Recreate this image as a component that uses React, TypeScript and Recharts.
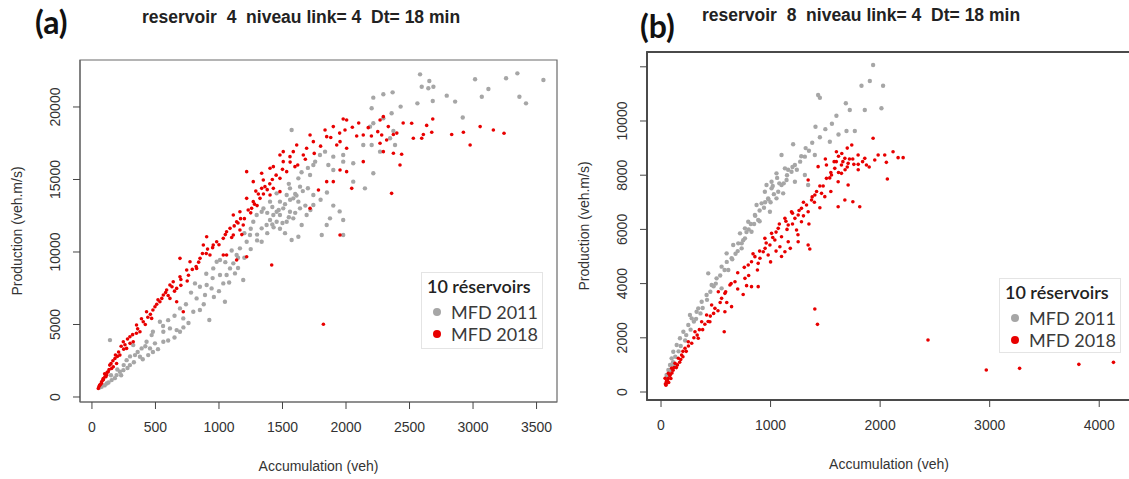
import React from 'react';
import { ScatterChart, Scatter, XAxis, YAxis, ReferenceArea, Legend, Label } from 'recharts';

type Pt = [number, number];

// ---------- Panel (a): reservoir 4 ----------
const mfd2011A: Pt[] = [
  [2583,22250],[2656,21790],[2596,21400],[2648,21290],[2688,21400],[3016,21910],[3121,21240],[3260,21980],[3349,22320],[3554,21860],
  [3365,20710],[3417,20250],[2793,20780],[2859,20370],[3069,20710],[2683,20415],[2562,20250],[2215,20645],[2294,20875],[2367,21010],
  [2430,20025],[2359,19570],[2294,19220],[2202,19910],[2919,19270],[1572,18415],[2215,18880],[2189,18645],[2373,18350],[2347,17840],
  [2386,17380],[2202,17380],[2136,17380],[2268,16920],[2215,15425],[2057,16115],[2149,14390],[2057,14850],[1978,16690],[1900,16575],
  [1835,16920],[1795,16690],[1743,16000],[1717,15310],[1757,16230],[1861,16000],[1900,15655],[1978,16230],[1625,15080],[1638,14505],
  [1559,14390],[1585,13700],[1533,13930],[1480,13470],[1506,13010],[1559,12780],[1625,13470],[1638,13010],[1690,12550],[1743,13930],
  [1874,12320],[1978,12210],[1848,11860],[1809,11170],[1978,11170],[1625,11055],[1572,10825],[1454,12780],[1428,12550],[1402,12210],
  [1454,12090],[1375,11860],[1336,11630],[1336,10710],[1270,12090],[1244,11170],[1218,10710],[1165,10250],[1139,9790],[1113,9215],
  [1087,8870],[1126,8525],[1191,8065],[1060,8410],[1008,9445],[982,9330],[955,8870],[1008,8410],[903,7720],[942,7490],
  [1034,7835],[1047,6570],[890,7030],[824,6800],[798,5880],[719,5420],[693,6110],[811,7835],[924,5305],[667,4615],
  [614,4730],[562,4500],[535,5190],[470,4270],[430,3810],[457,3350],[391,3350],[325,3580],[142,3925],[443,2890],
  [378,2775],[299,2200],[247,1850],[194,1510],[155,1165],[116,935],[76,705],[220,1740],[273,2540],[339,2890],
  [562,3810],[496,3700],[693,4500],[1480,12550],[1533,12090],[1585,12320],[1402,13470],[1336,12780],[1297,12550],[1651,11860],
  [1743,13240],[1454,14045],[180,1300],[230,1500],[280,2000],[330,2400],[400,2600],[480,3100],[520,3300],[600,3900],
  [650,4100],[720,4800],[760,5100],[850,6000],[880,6400],[960,6900],[1000,7300],[1080,7900],[1150,8900],[1200,9600],
  [1250,10200],[1300,10800],[1380,11300],[1430,11700],[1500,12000],[1550,12400],[1600,12700],[1680,13200],[1720,12900],[1800,13600],
  [1850,14100],[1900,13200],[1950,12800],[100,800],[130,1000],[60,650],
  [1350,13000],[1380,12700],[1420,13100],[1470,12900],[1520,13300],[1560,13600],[1610,13900],[1660,14200],[1700,14400],[1600,14000],
  [1550,14700],[1650,15500],[1700,15800],[1420,11900],[1480,11600],[1520,11300],[1300,11200],[1250,11600],[1200,11300],[1100,10100],
  [1050,9300],[1150,9600],[950,8200],[900,8500],[850,7600],[780,7200],[740,6400],[650,5600],[600,5300],[560,4900],
  [480,4500],[420,3500],[360,3100],[300,2800],[250,2200],[200,1900],[150,1500]
];

const mfd2018A: Pt[] = [
  [1978,19174],[2005,19105],[1900,18646],[1992,18415],[1835,18415],[1848,17955],[2084,18000],[2136,18070],[2175,18575],[2268,19105],
  [2294,19335],[2333,18646],[2373,18100],[2281,18070],[2268,17495],[2320,17725],[2294,16920],[2373,16805],[2438,16745],[2425,16000],
  [2517,18875],[2530,17840],[2609,18100],[2635,18730],[2675,18260],[2596,17840],[2683,19174],[2832,18100],[2924,18260],[2977,17380],
  [3056,18646],[3160,18415],[3244,18185],[2359,14045],[1822,5020],[1953,17610],[1927,17380],[2005,17150],[1953,15655],[2005,15540],
  [2045,14390],[2136,16230],[1848,14850],[1900,14850],[1783,14275],[1953,11170],[1717,13010],[1717,18070],[1743,17610],[1690,17150],
  [1664,16690],[1612,17380],[1585,16920],[1559,16575],[1506,16920],[1480,16690],[1506,16230],[1598,15885],[1533,15540],[1480,15080],
  [1428,15885],[1402,15770],[1336,15425],[1218,15540],[1270,14850],[1349,14965],[1362,14505],[1336,14390],[1428,14390],[1480,14160],
  [1402,13930],[1323,13700],[1270,13470],[1218,13700],[1257,13010],[1165,12780],[1113,12550],[1139,12090],[1191,11860],[1087,11630],
  [1060,11400],[1113,11170],[1165,11515],[1034,10940],[982,10710],[903,11055],[877,10480],[955,10480],[1034,9790],[1218,9675],
  [1139,9445],[1060,9790],[1415,9100],[929,9790],[851,9560],[824,8870],[772,9330],[693,9560],[746,8755],[693,8295],
  [640,7950],[614,7720],[667,7490],[588,7375],[562,7030],[614,6800],[535,6570],[496,6225],[667,6570],[719,5880],
  [430,5880],[470,5420],[404,5190],[351,4960],[378,4500],[299,4155],[325,3810],[247,3810],[273,3350],[220,2890],
  [181,2660],[194,2315],[155,1970],[128,1740],[116,1510],[89,1280],[76,1050],[63,820],[50,590],[102,1395],
  [168,2085],[1200,12300],[1250,12700],[1300,13200],[1150,12000],[1350,14000],[1400,14700],[1450,15300],[1290,14200],[1100,11000],
  [1180,11200],[520,6700],[580,7200],[630,7600],[700,8100],[760,8400],[820,9000],[870,9900],[910,10200],[100,1600],
  [140,2200],[200,2800],[250,3300],[300,3700],[350,4400],[420,5000],[460,5700],[70,900],[85,1150],
  [55,700],[60,800],[75,950],[90,1200],[110,1400],[120,1700],[135,1900],[150,2300],[165,2500],[185,2900],
  [210,3100],[230,3500],[260,3600],[280,4000],[320,4300],[360,4700],[390,5400],[440,5500],[480,6000],[510,6400],
  [550,6800],[600,7000],[650,7300],[700,7700],[750,8000],[790,8800],[840,9300],[900,9900],[950,10300],[1000,10500],
  [1050,11200],[1120,11800],[1170,12300],[1230,12900],[1280,13300],[1310,14000],[1380,14300],[1420,15000],[1500,15700],[1560,16200],
  [1620,16000],[1680,16400],[1750,16800],[1800,17300],[1880,17900],[1950,18200],[2050,18600],[2100,18900],[2200,18000],[2250,18300],
  [2400,18200],[2450,18900]
];

// ---------- Panel (b): reservoir 8 ----------
const mfd2011B: Pt[] = [
  [1936,12066],[1906,11476],[1830,11303],[2027,11303],[1434,10959],[1450,10860],[1687,10653],[1723,10406],[1860,10406],[2012,10468],
  [1601,10196],[1410,9790],[1693,9631],[1769,9631],[1541,9236],[1206,9140],[1100,8745],[1404,8745],[1313,8684],[1222,8376],
  [1131,8253],[1191,8130],[1054,8068],[1146,7823],[1222,7761],[1313,8007],[1343,7638],[1100,7638],[1009,7515],[1070,7392],
  [948,7392],[978,7146],[1054,7146],[918,6961],[872,6900],[994,6654],[857,6531],[887,6347],[796,6285],[766,6039],
  [826,5916],[721,5854],[766,5670],[705,5485],[659,5424],[736,5300],[599,5116],[644,4933],[553,4625],[431,4379],
  [614,4502],[507,4194],[462,3948],[553,3825],[416,3579],[371,3333],[325,2964],[280,2718],[249,2472],[204,2226],
  [173,1981],[143,1734],[112,1488],[97,1242],[82,996],[67,812],[51,627],[264,2841],[340,3087],[736,5485],
  [1009,7761],[1115,7330],[963,7638],[600,4800],[680,5100],[750,5600],[800,6000],[850,6200],[900,6700],[950,7000],
  [1030,7300],[1080,7700],[1150,8000],[1200,8300],[1270,8500],[1350,8900],[1000,7000],[500,4000],[450,3700],[380,3100],
  [300,2600],[230,2100],[180,1700],[130,1300],[110,1100],[90,800],[60,500],
  [780,5900],[820,6200],[860,6500],[900,6300],[940,6800],[980,7100],[1020,7600],[1060,7900],[1120,7700],[1160,8200],
  [1240,8200],[1280,8700],[1320,9000],[1380,9200],[1450,9400],[1500,9700],[1560,9900],[1620,9500],[700,5200],[650,4900],
  [580,4500],[540,4300],[480,3900],[420,3400],[360,2900],[320,2700],[270,2300],[220,1900],[160,1500],[120,1000],[100,900]
];

const mfd2018B: Pt[] = [
  [1936,9361],[1741,9114],[1601,8868],[1678,8622],[1708,8437],[1647,8376],[1586,8253],[1510,8376],[1434,8315],[1799,8745],
  [1860,8622],[1951,8561],[1982,8745],[2118,8868],[2164,8647],[2210,8647],[2057,8475],[1875,8376],[2042,8745],[2066,7860],
  [1556,8007],[1647,8068],[1708,7638],[1617,7761],[1510,7884],[1343,7823],[1465,7330],[1495,7208],[1404,7269],[1374,7085],
  [1678,7085],[1751,7023],[1814,6838],[1617,6838],[1328,6900],[1282,6777],[1343,6654],[1252,6531],[1191,6654],[1222,6408],
  [1131,6408],[1282,6285],[1161,6162],[1070,6039],[1237,5978],[1009,5854],[1100,5731],[1039,5609],[948,5670],[1161,5547],
  [994,5424],[1085,5362],[1343,5424],[1358,5277],[1252,5547],[933,5178],[978,5055],[1131,5178],[857,4994],[796,4686],
  [826,4809],[887,4748],[903,4933],[826,3887],[781,3924],[887,3887],[675,4071],[629,3948],[766,4194],[583,3641],
  [523,3702],[553,3456],[462,3210],[492,3087],[583,2964],[644,3149],[416,2841],[446,2595],[371,2595],[577,2226],
  [310,2226],[340,1981],[249,1857],[219,1612],[188,1365],[158,1243],[128,1058],[97,874],[67,689],[37,504],
  [51,320],[1404,3063],[1428,2497],[2437,1919],[2969,812],[3273,873],[3814,1021],[4130,1094],[40,300],[60,400],
  [80,600],[100,700],[120,900],[70,350],[90,500],[150,1000],[180,1200],[200,1500],[250,1700],[300,2000],
  [350,2300],[400,2500],[450,2800],[520,3000],[600,3300],[700,3800],[750,3600],[800,4300],[880,4500],[950,5300],
  [1050,5900],[1150,6000],[1200,6200],[1300,6500],[1400,7000],[1450,7600],[1550,8100],[1600,8500],[1700,8300],[1750,8600],
  [1800,8400],[1650,8800],[1700,9000],[1500,8600],[1550,7400],[1450,6800],[1350,6200],[1250,5800],[1180,5300],[1100,5000],
  [1000,4800],[1050,5200],
  [1580,8500],[1620,8700],[1660,8500],[1720,8600],[1760,8400],[1800,8200],[1840,8500],[1900,8300],[1680,8200],[1620,8100],
  [1540,7900],[1480,7600],[1420,7400],[1380,7200],[1300,7000],[1260,6700],[1200,6600],[1140,6300],[1080,6200],[1020,5700],
  [960,5500],[900,5200],[840,5100],[760,4600],[700,4400],[640,4000],[590,3700],[540,3300],[480,2900],[430,2600],
  [380,2300],[330,2100],[280,1800],[230,1500],[200,1300],[170,1100],[140,900],[110,800],[85,650],[65,500],
  [50,400],[45,250]
];

// ---------- Axes ----------
const xTicksA = [0, 500, 1000, 1500, 2000, 2500, 3000, 3500];
const yTicksA = [0, 5000, 10000, 15000, 20000];
const xTicksB = [0, 1000, 2000, 3000, 4000];
const yTicksB = [0, 2000, 4000, 6000, 8000, 10000, 12000];
const hiddenYLabelsB = [12000];

const seriesNames = ['MFD 2011', 'MFD 2018'];
const legendTitle = '10 réservoirs';
const titleA = 'reservoir  4  niveau link= 4  Dt= 18 min';
const titleB = 'reservoir  8  niveau link= 4  Dt= 18 min';
const xLabel = 'Accumulation (veh)';
const yLabel = 'Production (veh.m/s)';

const GRAY = '#a6a6a6';
const RED = '#e80000';
const AXIS_FONT = '"Liberation Sans", Arial, Helvetica, sans-serif';

const toObjs = (pts: Pt[]) => pts.map(([x, y]) => ({ x, y }));

const XTick = (props: any) => {
  const { x, y, payload } = props;
  return (
    <text x={x} y={y} dy={23} textAnchor="middle" fontSize={14} fill="#333" fontFamily={AXIS_FONT}>
      {payload.value}
    </text>
  );
};

const makeYTick = (hidden: number[]) => (props: any) => {
  const { x, y, payload } = props;
  if (hidden.includes(payload.value)) return <g />;
  const bx = x - 13;
  return (
    <text x={bx} y={y} transform={`rotate(-90 ${bx} ${y})`} textAnchor="middle" fontSize={14} fill="#333" fontFamily={AXIS_FONT}>
      {payload.value}
    </text>
  );
};

const dot = (r: number, fill: string) => (p: any) => <circle cx={p.cx} cy={p.cy} r={r} fill={fill} />;

const LegendBox = ({ payload, w, h }: any) => (
  <svg width={w} height={h} style={{ display: 'block' }}>
    <rect x={0.5} y={0.5} width={w - 1} height={h - 1} fill="#fff" stroke="#e4e4e4" />
    <text x={6} y={21} fontFamily="Lato, sans-serif" fontWeight={600} fontSize={18} fill="#222">{legendTitle}</text>
    {(payload || []).map((e: any, i: number) => (
      <g key={i}>
        <circle cx={16} cy={40 + i * 22} r={4} fill={e.color} />
        <text x={30} y={46.5 + i * 22} fontFamily="Lato, sans-serif" fontSize={18} fill="#3a3a3a">{e.value}</text>
      </g>
    ))}
  </svg>
);

type PanelProps = {
  left: number; width: number; top: number; right: number; bottom: number; yAxisWidth: number;
  xDomain: [number, number]; yDomain: [number, number]; xTicks: number[]; yTicks: number[]; hidden: number[];
  gray: Pt[]; red: Pt[]; legend: { left: number; top: number; w: number; h: number };
  boxColor: string; boxWidth: number;
};

const H = 479;

const Panel = (p: PanelProps) => {
  const YTick = makeYTick(p.hidden);
  return (
    <div style={{ position: 'absolute', left: p.left, top: 0 }}>
      <ScatterChart width={p.width} height={H} margin={{ top: p.top, right: p.left + p.width - p.right, left: 0, bottom: 0 }}>
        <XAxis
          type="number" dataKey="x" domain={p.xDomain} allowDataOverflow ticks={p.xTicks} interval={0}
          height={H - p.bottom} tickSize={7} tickMargin={0}
          axisLine={{ stroke: p.boxColor, strokeWidth: p.boxWidth }} tickLine={{ stroke: '#444' }} tick={<XTick />}
        >
          <Label
            content={(lp: any) => {
              const vb = lp.viewBox;
              return (
                <text x={vb.x + vb.width / 2} y={vb.y + 69} textAnchor="middle" fontSize={14} fill="#333" fontFamily={AXIS_FONT}>
                  {xLabel}
                </text>
              );
            }}
          />
        </XAxis>
        <YAxis
          type="number" dataKey="y" domain={p.yDomain} allowDataOverflow ticks={p.yTicks} interval={0}
          width={p.yAxisWidth} tickSize={7} tickMargin={0}
          axisLine={{ stroke: p.boxColor, strokeWidth: p.boxWidth }} tickLine={{ stroke: '#444' }} tick={<YTick />}
        >
          <Label
            content={(lp: any) => {
              const vb = lp.viewBox;
              const bx = vb.x + vb.width - 58;
              const cy = vb.y + vb.height / 2;
              return (
                <text x={bx} y={cy} transform={`rotate(-90 ${bx} ${cy})`} textAnchor="middle" fontSize={14} fill="#333" fontFamily={AXIS_FONT}>
                  {yLabel}
                </text>
              );
            }}
          />
        </YAxis>
        <Scatter name={seriesNames[0]} data={toObjs(p.gray)} fill={GRAY} shape={dot(2.2, GRAY)} isAnimationActive={false} />
        <Scatter name={seriesNames[1]} data={toObjs(p.red)} fill={RED} shape={dot(1.8, RED)} isAnimationActive={false} />
        <ReferenceArea
          x1={p.xDomain[0]} x2={p.xDomain[1]} y1={p.yDomain[0]} y2={p.yDomain[1]}
          fill="none" fillOpacity={0} stroke={p.boxColor} strokeWidth={p.boxWidth} ifOverflow="visible"
        />
        <Legend
          layout="vertical" align="center" verticalAlign="middle"
          wrapperStyle={{ left: p.legend.left, top: p.legend.top, width: p.legend.w, height: p.legend.h, margin: 0 }}
          content={(lp: any) => <LegendBox payload={lp.payload} w={p.legend.w} h={p.legend.h} />}
        />
      </ScatterChart>
    </div>
  );
};

export default function App() {
  return (
    <div style={{ position: 'absolute', left: 0, top: 0, width: 1129, height: 479, overflow: 'hidden', background: '#fff' }}>
      <Panel
        left={0} width={600} top={60} right={557} bottom={402} yAxisWidth={80}
        xDomain={[-94, 3661]} yDomain={[-345, 23240]} xTicks={xTicksA} yTicks={yTicksA} hidden={[]}
        gray={mfd2011A} red={mfd2018A} legend={{ left: 421, top: 272, w: 122, h: 77 }}
        boxColor="#6a6a6a" boxWidth={1.2}
      />
      <Panel
        left={560} width={600} top={52} right={1131} bottom={400} yAxisWidth={87}
        xDomain={[-128, 4290]} yDomain={[-295, 12546]} xTicks={xTicksB} yTicks={yTicksB} hidden={hiddenYLabelsB}
        gray={mfd2011B} red={mfd2018B} legend={{ left: 439, top: 278, w: 122, h: 75 }}
        boxColor="#4a4a4a" boxWidth={1.8}
      />
      <svg width={1129} height={479} style={{ position: 'absolute', left: 0, top: 0, pointerEvents: 'none' }}>
        <text x={35} y={34} fontFamily="Lato, sans-serif" fontWeight={700} fontSize={32} fill="#111">(a)</text>
        <text x={640} y={38} fontFamily="Lato, sans-serif" fontWeight={700} fontSize={32} fill="#111">(b)</text>
        <text x={142} y={23} fontFamily={AXIS_FONT} fontWeight={700} fontSize={17.5} fill="#222" style={{ whiteSpace: 'pre' }}>{titleA}</text>
        <text x={702} y={21} fontFamily={AXIS_FONT} fontWeight={700} fontSize={17.5} fill="#222" style={{ whiteSpace: 'pre' }}>{titleB}</text>
      </svg>
    </div>
  );
}
